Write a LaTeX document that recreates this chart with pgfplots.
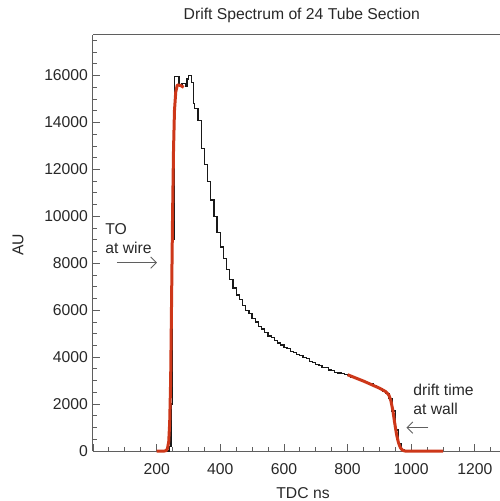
\documentclass[border=0pt]{standalone}
\usepackage{fontspec}
\setmainfont{Liberation Sans}
\usepackage{pgfplots}
\pgfplotsset{compat=1.18}
\usetikzlibrary{arrows.meta}
\definecolor{fitred}{RGB}{205,55,25}
\definecolor{axgray}{RGB}{95,95,95}
\definecolor{txt}{RGB}{40,40,40}
\begin{document}
\begin{tikzpicture}
\begin{axis}[
  width=284.9pt, height=291.2pt, scale only axis,
  xmin=0, xmax=1279, ymin=0, ymax=17730,
  axis x line*=box, axis y line*=left,
  axis line style={axgray, line width=0.7pt},
  every tick/.style={axgray, line width=0.6pt},
  tick align=inside,
  xtick pos=bottom, ytick pos=left,
  major tick length=5pt, minor tick length=2.6pt,
  xtick={0,200,400,600,800,1000,1200},
  xticklabels={{},200,400,600,800,1000,1200},
  minor xtick={50,100,...,1250},
  ytick={0,2000,...,16000},
  minor ytick={500,1000,...,17500},
  scaled y ticks=false,
  yticklabel style={/pgf/number format/fixed, /pgf/number format/1000 sep={}},
  /pgf/number format/1000 sep={},
  /pgf/number format/assume math mode=true,
  tick label style={font=\fontsize{11}{13}\selectfont, text=txt},
  xticklabel style={yshift=-5.5pt},
  label style={font=\fontsize{11}{13}\selectfont, text=txt},
  xlabel={TDC ns},
  xlabel style={at={(axis description cs:0.516,-0.1)}, anchor=center},
  ylabel={AU},
  ylabel style={at={(axis description cs:-0.184,0.495)}, anchor=center, rotate=0},
  title={Drift Spectrum of 24 Tube Section},
  every axis title shift=0pt,
  title style={at={(axis description cs:0.513,1.048)}, anchor=center, font=\fontsize{11}{13}\selectfont, text=txt},
  clip=false,
]
\addplot[const plot, color=black!90, line width=0.9pt] coordinates {
(200,0) (230,0) (240,200) (245,2000) (250,9000) (255,15950) (270,15600)
(280,15650) (290,15550) (295,15850) (300,16000) (310,15700) (315,14800)
(320,14600) (330,14100) (340,12900) (350,12200) (360,11500) (370,10700)
(380,10000) (390,9300) (400,8700) (410,8200) (420,7750) (430,7300)
(440,6950) (450,6650) (460,6450) (470,6200) (480,6000) (490,5850)
(500,5650) (510,5500) (520,5300) (530,5200) (540,5050) (550,4900)
(560,4850) (570,4700) (580,4600) (590,4520) (600,4400) (610,4380)
(620,4250) (630,4200) (640,4100) (650,4080) (660,4000) (670,3950)
(680,3800) (690,3780) (700,3700) (710,3650) (720,3560) (730,3550)
(740,3450) (750,3420) (760,3350) (770,3320) (780,3300) (790,3250)
(800,3230) (810,3150) (820,3130) (830,3050) (840,3000) (850,2950)
(860,2900) (870,2880) (880,2800) (890,2720) (900,2650) (910,2550)
(920,2450) (930,2250) (940,1700) (950,900) (960,300) (970,50)
(980,0) (1100,0)
};
\addplot[color=fitred, line width=2.1pt, line join=round] coordinates {
(200,0) (225,0) (230,20) (234,100) (238,400) (241,1200) (244,3000)
(247,6500) (250,10000) (253,12800) (256,14500) (260,15300) (265,15600)
(275,15580) (285,15500)
};
\addplot[color=fitred, line width=2.1pt, line join=round] coordinates {
(800,3250) (850,2980) (900,2680) (920,2530) (930,2380) (936,2150)
(942,1750) (948,1200) (954,700) (960,350) (966,140) (972,40)
(980,0) (1100,0)
};
\node[anchor=base west, inner sep=0pt, font=\fontsize{11}{13}\selectfont, text=txt] at (axis cs:38,9215) {TO};
\node[anchor=base west, inner sep=0pt, font=\fontsize{11}{13}\selectfont, text=txt] at (axis cs:38,8404) {at wire};
\draw[axgray, line width=0.6pt, -{Straight Barb[length=4pt,width=8pt]}] (axis cs:75,8030) -- (axis cs:201,8030);
\node[anchor=base west, inner sep=0pt, font=\fontsize{11}{13}\selectfont, text=txt] at (axis cs:1006,2346) {drift time};
\node[anchor=base west, inner sep=0pt, font=\fontsize{11}{13}\selectfont, text=txt] at (axis cs:1006,1536) {at wall};
\draw[axgray, line width=0.6pt, -{Straight Barb[length=4pt,width=8pt]}] (axis cs:1054,995) -- (axis cs:985,995);
\end{axis}
\pgfresetboundingbox
\useasboundingbox ([xshift=-65.1pt,yshift=-35pt]current axis.south west) rectangle ([yshift=24.5pt]current axis.north east);
\end{tikzpicture}
\end{document}
